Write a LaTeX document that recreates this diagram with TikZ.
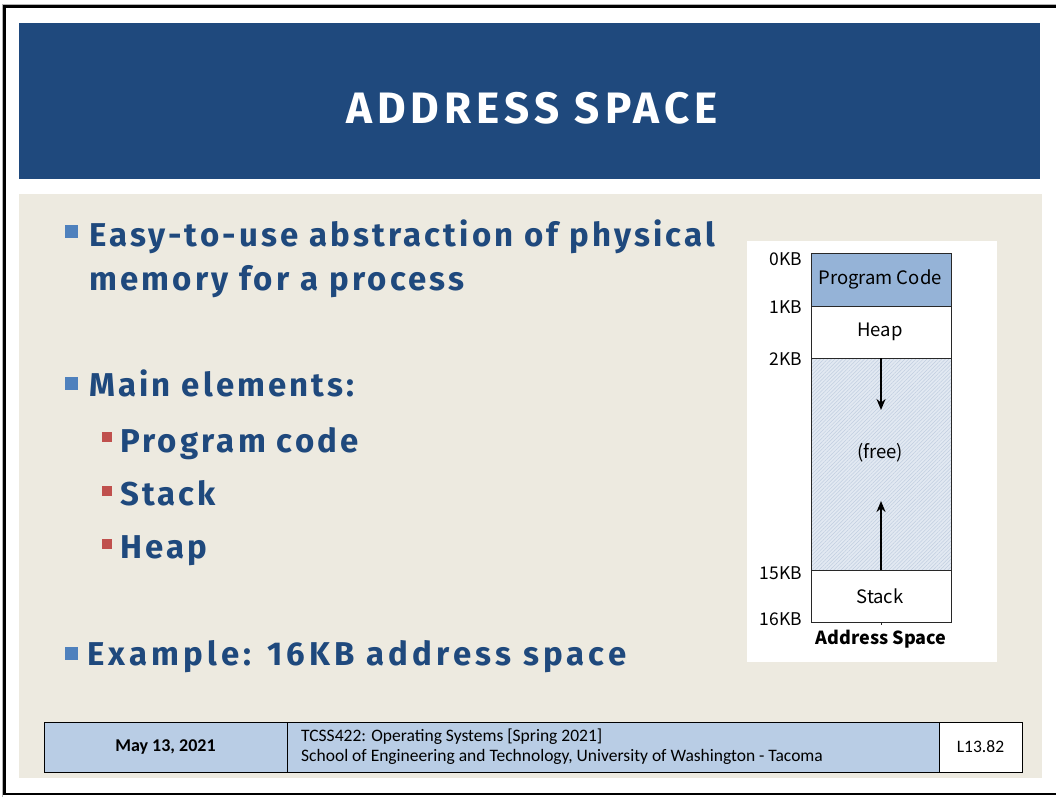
\documentclass[tikz,border=0pt]{standalone}
\usepackage{fontspec}
\usetikzlibrary{arrows.meta,patterns.meta}
\setmainfont{Fira Sans}
\newfontfamily\slidefont[LetterSpace=9.5]{Fira Sans}
\newfontfamily\widefont[LetterSpace=12.5]{Fira Sans}
\newfontfamily\titlefont[LetterSpace=11.5]{Fira Sans}
\newfontfamily\footfont{Carlito}
\newfontfamily\figfont{Noto Sans CJK KR}

\definecolor{titleblue}{RGB}{31,73,125}
\definecolor{paper}{RGB}{237,234,224}
\definecolor{footblue}{RGB}{185,205,229}
\definecolor{bulletblue}{RGB}{79,129,189}
\definecolor{bulletred}{RGB}{192,80,77}
\definecolor{codeblue}{RGB}{149,179,215}
\definecolor{freeblue}{RGB}{226,233,242}
\definecolor{hatch}{RGB}{192,206,224}
\definecolor{edge}{RGB}{40,40,40}

\tikzset{
  item/.style={anchor=base west, inner sep=0pt, text=titleblue,
    font=\slidefont\bfseries\fontsize{33}{36}\selectfont},
  mainbullet/.style={fill=bulletblue},
  subbullet/.style={fill=bulletred},
  cell/.style={draw=black, line width=0.9pt},
  seg/.style={draw=edge, line width=0.8pt},
  kb/.style={anchor=east, inner sep=0pt, font=\figfont\fontsize{17.5}{19}\selectfont},
  seglabel/.style={inner sep=0pt, font=\figfont\fontsize{18.5}{20}\selectfont},
  growarrow/.style={line width=1.7pt, -{Stealth[length=11pt,width=9pt]}}
}

\begin{document}
\begin{tikzpicture}[x=1pt,y=-1pt]
\useasboundingbox (0,0) rectangle (1056,797);
\fill[white] (0,0) rectangle (1056,797);

% slide frame
\draw[gray!60, line width=0.8pt] (2,4) -- (1056,4);
\draw[gray!60, line width=0.8pt] (2,4) -- (2,797);
\draw[black, line width=2.4pt] (1060,6.5) -- (4.5,6.5) -- (4.5,794) -- (1060,794);

% title bar and content area
\fill[titleblue] (19,23) rectangle (1040,179);
\node[text=white, inner sep=0pt, font=\titlefont\bfseries\fontsize{44}{48}\selectfont]
  (title) at (532,108) {ADDRESS SPACE};
\fill[paper] (19,194) rectangle (1042,778);

% bullet list
\fill[mainbullet] (65,225) rectangle (78,238);
\node[item] (l1) at (89,246) {Easy-to-use abstraction of physical};
\node[item] (l2) at (89,290) {memory for a process};
\fill[mainbullet] (65,377) rectangle (78,390);
\node[item] (l3) at (89,396) {Main elements:};
\fill[subbullet] (102,432) rectangle (112,442);
\node[item] (l4) at (120,452) {Program code};
\fill[subbullet] (102,486) rectangle (112,496);
\node[item] (l5) at (120,505) {Stack};
\fill[subbullet] (102,539) rectangle (112,549);
\node[item] (l6) at (120,558) {Heap};
\fill[mainbullet] (65,647) rectangle (78,660);
\node[item, font=\widefont\bfseries\fontsize{33}{36}\selectfont] (l7) at (87,665) {Example: 16KB address space};

% address space figure
\fill[white] (747,241) rectangle (997,662);
\path[fill=codeblue, seg] (811,253) rectangle (951,306);
\path[fill=white, seg] (811,306) rectangle (951,358);
\fill[freeblue] (811,358) rectangle (951,570);
\fill[pattern={Lines[angle=45,distance=2.6pt,line width=0.5pt]}, pattern color=hatch]
  (811,358) rectangle (951,570);
\draw[seg] (811,358) rectangle (951,570);
\path[fill=white, seg] (811,570) rectangle (951,622);

\node[seglabel] (code) at (880,279) {Program Code};
\node[seglabel] (heap) at (880,332) {Heap};
\node[seglabel] (free) at (880,453) {(free)};
\node[seglabel] (stack) at (880,596) {Stack};
\node[seglabel, font=\figfont\bfseries\fontsize{18}{20}\selectfont] (cap) at (881,639) {Address Space};

\node[kb] (k0) at (802,259) {0KB};
\node[kb] (k1) at (802,307) {1KB};
\node[kb] (k2) at (802,359) {2KB};
\node[kb] (k15) at (802,573) {15KB};
\node[kb] (k16) at (802,619) {16KB};

\coordinate (heaptop) at (881,358);
\coordinate (heapend) at (881,410);
\coordinate (stacktop) at (881,570);
\coordinate (stackend) at (881,501);
\draw[growarrow] (heaptop) -- (heapend);
\draw[growarrow] (stacktop) -- (stackend);

% small tick under the bottom edge of the stack segment
\coordinate (ticktop) at (881,622);
\coordinate (tickend) at (881,625);
\draw[edge, line width=0.8pt] (ticktop) -- (tickend);

% footer
\path[fill=footblue, cell] (44,722) rectangle (287,772);
\path[fill=footblue, cell] (287,722) rectangle (939,772);
\path[fill=white, cell] (939,722) rectangle (1022,772);
\node[font=\footfont\bfseries\fontsize{18}{20}\selectfont, inner sep=0pt] (date) at (165.5,747) {May 13, 2021};
\node[anchor=west, align=left, inner sep=0pt, font=\footfont\fontsize{17.5}{20}\selectfont] (course) at (301,747)
  {TCSS422: Operating Systems [Spring 2021]\\School of Engineering and Technology, University of Washington - Tacoma};
\node[font=\footfont\fontsize{17.5}{19}\selectfont, inner sep=0pt] (num) at (980.5,747) {L13.82};
\end{tikzpicture}
\end{document}
